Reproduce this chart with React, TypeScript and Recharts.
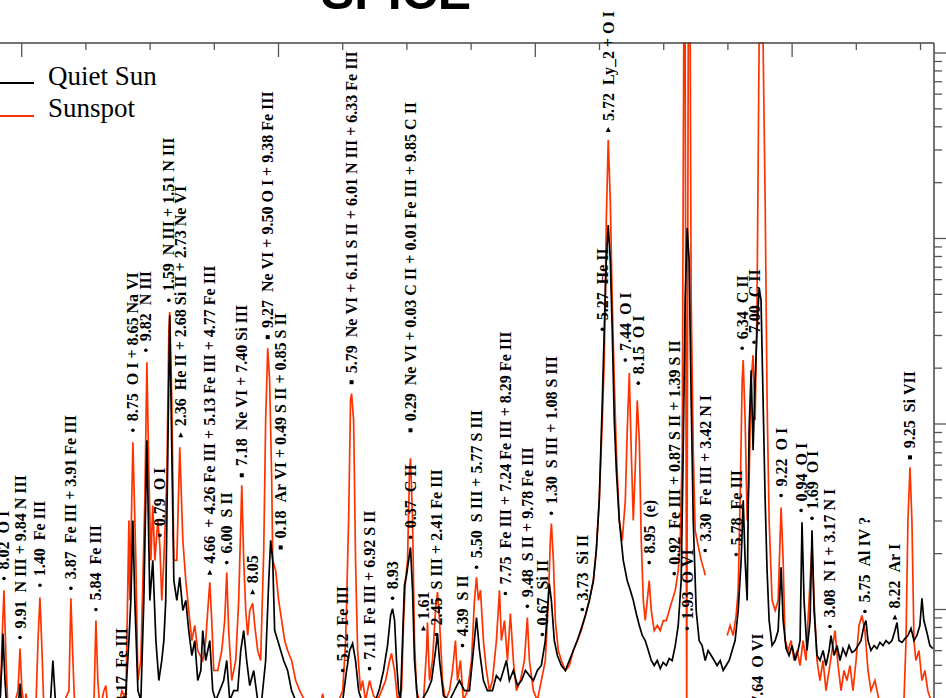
import React from 'react';
import { ComposedChart, Line, Scatter, XAxis, YAxis } from 'recharts';

// [wavelength (Å), intensity]; null = gap in the sunspot data
const sunspot: [number, number | null][] = [
  [978.31, 0.285], [978.47, 0.68], [978.62, 1.27], [978.78, 0.531], [978.93, 0.285], [979.40, 0.303], [979.71, 0.365],
  [979.87, 0.616], [980.02, 0.365], [980.25, 0.285], [980.33, 0.352], [980.49, 0.285], [981.11, 0.303], [981.27, 0.68],
  [981.42, 1.16], [981.58, 0.601], [981.73, 0.285], [982.98, 0.285], [983.68, 0.365], [983.83, 1.15], [983.99, 0.531],
  [984.14, 0.285], [985.62, 0.303], [985.78, 0.872], [985.93, 0.414], [986.09, 0.285], [986.40, 0.365], [986.56, 0.389],
  [986.71, 0.285], [987.49, 0.285], [987.80, 0.365], [988.11, 0.323], [988.35, 3.02], [988.42, 1.12], [988.66, 7.97],
  [988.89, 1.84], [989.05, 0.414], [989.28, 0.531], [989.59, 3.88], [989.75, 21.5], [989.90, 5.63], [990.06, 1.84],
  [990.21, 3.64], [990.37, 1.84], [990.60, 3.02], [990.76, 2.21], [990.91, 1.12], [991.07, 1.84], [991.30, 4.97],
  [991.46, 32.0], [991.53, 40.1], [991.69, 13.4], [991.85, 1.84], [992.08, 1.84], [992.31, 7.48], [992.55, 2.36],
  [992.78, 1.43], [993.01, 0.988], [993.25, 0.68], [993.48, 0.82], [993.71, 0.601], [994.10, 0.531], [994.33, 0.68],
  [994.49, 0.988], [994.65, 1.40], [994.80, 0.872], [994.96, 0.469], [995.27, 0.469], [995.58, 0.601], [995.81, 0.872],
  [995.97, 1.58], [996.12, 0.77], [996.36, 0.414], [996.67, 0.531], [996.90, 1.12], [997.14, 4.67], [997.29, 1.84],
  [997.45, 0.988], [997.60, 0.724], [997.76, 0.988], [997.99, 1.08], [998.15, 0.82], [998.38, 0.601], [998.61, 0.531],
  [998.85, 2.08], [999.00, 10.5], [999.16, 25.6], [999.31, 17.2], [999.47, 4.97], [999.55, 1.84], [999.78, 1.62],
  [1000.01, 1.12], [1000.25, 0.872], [1000.48, 0.68], [1000.71, 0.601], [1001.02, 0.531], [1001.34, 0.414],
  [1001.65, 0.365], [1002.04, 0.323], [1002.42, 0.285], [1003.20, 0.285], [1003.44, 0.352], [1003.67, 0.285],
  [1004.37, 0.285], [1005.00, 0.365], [1005.23, 0.68], [1005.46, 3.02], [1005.61, 13.4], [1005.69, 14.6],
  [1005.85, 10.5], [1006.00, 1.84], [1006.16, 0.601], [1006.39, 0.365], [1006.55, 0.414], [1006.78, 0.323],
  [1007.09, 0.414], [1007.40, 0.343], [1007.71, 0.323], [1008.03, 0.365], [1008.34, 0.414], [1008.65, 0.531],
  [1008.80, 0.579], [1009.04, 0.469], [1009.27, 0.323], [1009.58, 0.365], [1009.74, 0.872], [1009.89, 1.43],
  [1010.05, 1.84], [1010.20, 5.63], [1010.28, 6.53], [1010.44, 3.02], [1010.59, 0.68], [1010.75, 0.365],
  [1010.98, 0.323], [1011.29, 0.323], [1011.53, 0.601], [1011.60, 0.851], [1011.76, 0.414], [1011.99, 0.531],
  [1012.23, 0.988], [1012.38, 1.24], [1012.54, 0.872], [1012.77, 0.414], [1013.00, 0.323], [1013.32, 0.365],
  [1013.55, 0.469], [1013.78, 0.68], [1013.94, 0.414], [1014.17, 0.531], [1014.40, 0.323], [1014.72, 0.365],
  [1015.03, 0.531], [1015.26, 1.12], [1015.42, 1.49], [1015.57, 1.12], [1015.73, 1.27], [1015.96, 0.68],
  [1016.19, 0.469], [1016.43, 0.365], [1016.66, 0.414], [1016.97, 0.68], [1017.21, 1.27], [1017.36, 0.68],
  [1017.60, 0.872], [1017.83, 0.531], [1018.06, 0.951], [1018.29, 0.531], [1018.53, 0.365], [1018.84, 0.414],
  [1019.15, 0.531], [1019.38, 0.905], [1019.54, 0.531], [1019.85, 0.365], [1020.16, 0.323], [1020.47, 0.414],
  [1020.78, 0.531], [1021.02, 1.12], [1021.17, 2.36], [1021.25, 2.91], [1021.41, 1.84], [1021.56, 0.872],
  [1021.79, 0.601], [1022.03, 0.531], [1022.34, 0.469], [1022.65, 0.499], [1022.96, 0.601], [1023.27, 0.68],
  [1023.58, 0.77], [1023.90, 0.928], [1024.21, 1.12], [1024.52, 1.43], [1024.75, 2.08], [1024.98, 3.88],
  [1025.22, 10.5], [1025.37, 22.1], [1025.53, 126], [1025.68, 340], [1025.84, 161], [1025.99, 46.5], [1026.15, 17.2],
  [1026.31, 7.21], [1026.54, 3.02], [1026.77, 2.36], [1027.01, 3.88], [1027.16, 9.25], [1027.32, 18.8], [1027.47, 7.21],
  [1027.63, 3.02], [1027.78, 5.63], [1027.94, 13.4], [1028.10, 8.17], [1028.25, 2.36], [1028.41, 1.12], [1028.56, 0.872],
  [1028.72, 1.12], [1028.87, 1.43], [1029.03, 0.988], [1029.26, 0.77], [1029.50, 0.82], [1029.73, 0.77], [1029.96, 0.872],
  [1030.20, 0.872], [1030.43, 0.988], [1030.66, 1.12], [1030.90, 1.27], [1031.13, 1.62], [1031.29, 2.36], [1031.44, 7.21],
  [1031.56, 1132], [1031.67, 1132], [1031.79, 0.252], [1031.91, 1132], [1032.06, 1132], [1032.14, 46.5], [1032.30, 7.21],
  [1032.45, 2.67], [1032.68, 2.21], [1032.92, 1.84], [1033.15, 1.62], [1033.23, 1.53], [1034.00, null],
  [1034.94, 0.724], [1035.17, 0.82], [1035.41, 0.724], [1035.64, 0.928], [1035.80, 1.27], [1035.95, 3.88],
  [1036.11, 17.2], [1036.19, 22.1], [1036.34, 10.5], [1036.50, 3.02], [1036.65, 4.97], [1036.81, 17.2], [1036.96, 23.5],
  [1037.12, 10.5], [1037.27, 46.5], [1037.43, 1132], [1037.58, 1132], [1037.74, 1132], [1037.90, 161], [1038.05, 13.4],
  [1038.21, 3.02], [1038.44, 1.12], [1038.68, 0.988], [1038.91, 1.12], [1039.14, 3.55], [1039.30, 1.84], [1039.45, 0.68],
  [1039.69, 0.601], [1039.92, 0.68], [1040.15, 0.531], [1040.39, 0.601], [1040.62, 0.499], [1040.85, 0.68],
  [1041.08, 0.531], [1041.32, 1.12], [1041.55, 2.21], [1041.71, 1.12], [1041.94, 0.531], [1042.17, 0.414],
  [1042.41, 0.531], [1042.64, 0.365], [1042.88, 0.469], [1043.11, 0.601], [1043.34, 0.77], [1043.58, 0.499],
  [1043.81, 0.365], [1044.04, 0.469], [1044.27, 0.414], [1044.51, 0.499], [1044.74, 0.365], [1044.98, 0.531],
  [1045.21, 0.82], [1045.44, 0.928], [1045.67, 0.77], [1045.91, 0.469], [1046.14, 0.365], [1046.45, 0.414],
  [1046.77, 0.323], [1047.15, 0.252], [1048.32, 0.252], [1048.71, 0.323], [1048.87, 0.68], [1049.02, 3.02],
  [1049.18, 5.84], [1049.33, 3.02], [1049.49, 0.68], [1049.64, 0.531], [1049.88, 0.601], [1050.11, 0.414],
  [1050.34, 0.469], [1050.57, 0.365], [1050.81, 0.323], [1050.96, 0.285],
];

const quietSun: [number, number][] = [
  [978.31, 0.323], [978.47, 0.531], [978.54, 0.742], [978.70, 0.414], [978.85, 0.285], [979.71, 0.285], [979.87, 0.399],
  [980.02, 0.285], [982.20, 0.285], [982.43, 0.531], [982.67, 0.285], [988.03, 0.285], [988.35, 0.68], [988.50, 1.12],
  [988.66, 3.02], [988.81, 1.12], [989.05, 0.365], [989.28, 0.323], [989.51, 1.12], [989.75, 8.17], [989.98, 1.12],
  [990.21, 1.84], [990.45, 0.68], [990.68, 0.414], [990.91, 0.531], [991.07, 0.68], [991.22, 1.12], [991.38, 7.21],
  [991.53, 38.6], [991.69, 7.21], [991.85, 1.43], [992.08, 1.12], [992.31, 1.49], [992.55, 0.988], [992.78, 1.12],
  [993.01, 0.77], [993.25, 0.565], [993.48, 0.68], [993.71, 0.414], [993.95, 0.469], [994.10, 0.77], [994.33, 0.531],
  [994.65, 0.68], [994.88, 0.365], [995.11, 0.323], [995.42, 0.365], [995.73, 0.414], [995.97, 0.531], [996.20, 0.323],
  [996.51, 0.365], [996.82, 0.365], [997.06, 0.601], [997.29, 0.77], [997.52, 0.531], [997.76, 0.389], [998.07, 0.469],
  [998.38, 0.323], [998.69, 0.323], [999.00, 0.531], [999.24, 1.43], [999.39, 2.36], [999.55, 1.84], [999.70, 0.77],
  [999.94, 0.68], [1000.17, 0.601], [1000.40, 0.531], [1000.71, 0.469], [1001.02, 0.365], [1001.34, 0.323],
  [1001.65, 0.303], [1004.76, 0.285], [1005.00, 0.323], [1005.30, 0.469], [1005.54, 0.601], [1005.77, 0.655],
  [1006.00, 0.531], [1006.24, 0.365], [1006.47, 0.323], [1007.09, 0.303], [1007.56, 0.323], [1007.87, 0.375],
  [1008.18, 0.469], [1008.49, 0.639], [1008.73, 0.928], [1008.88, 1.01], [1009.04, 0.872], [1009.19, 0.531],
  [1009.35, 0.365], [1009.50, 0.323], [1009.66, 0.68], [1009.81, 1.35], [1009.97, 1.53], [1010.13, 1.84],
  [1010.28, 2.16], [1010.44, 1.27], [1010.59, 0.531], [1010.83, 0.323], [1011.14, 0.323], [1011.60, 0.365],
  [1011.92, 0.414], [1012.23, 0.601], [1012.38, 0.742], [1012.54, 0.531], [1012.85, 0.343], [1013.32, 0.323],
  [1013.70, 0.365], [1014.09, 0.414], [1014.48, 0.365], [1014.87, 0.365], [1015.18, 0.601], [1015.42, 0.905],
  [1015.65, 0.601], [1015.96, 0.414], [1016.27, 0.365], [1016.66, 0.365], [1016.97, 0.44], [1017.28, 0.414],
  [1017.52, 0.469], [1017.75, 0.531], [1017.98, 0.414], [1018.29, 0.469], [1018.61, 0.389], [1018.92, 0.414],
  [1019.23, 0.469], [1019.54, 0.44], [1019.85, 0.414], [1020.16, 0.469], [1020.47, 0.499], [1020.78, 0.68],
  [1020.94, 0.988], [1021.09, 1.38], [1021.25, 1.12], [1021.48, 0.68], [1021.72, 0.565], [1022.03, 0.499],
  [1022.34, 0.469], [1022.65, 0.531], [1022.96, 0.601], [1023.27, 0.68], [1023.58, 0.79], [1023.90, 0.928],
  [1024.21, 1.12], [1024.52, 1.43], [1024.75, 2.08], [1024.98, 3.88], [1025.22, 13.4], [1025.37, 32.0], [1025.53, 76.5],
  [1025.68, 118], [1025.84, 76.5], [1025.99, 32.0], [1026.15, 10.5], [1026.31, 5.63], [1026.54, 3.02], [1026.85, 1.84],
  [1027.16, 1.43], [1027.40, 1.27], [1027.63, 1.12], [1027.86, 0.951], [1028.10, 0.82], [1028.33, 0.724],
  [1028.56, 0.68], [1028.80, 0.601], [1029.03, 0.531], [1029.26, 0.499], [1029.50, 0.531], [1029.73, 0.48],
  [1029.96, 0.518], [1030.20, 0.499], [1030.43, 0.544], [1030.66, 0.531], [1030.90, 0.639], [1031.13, 0.82],
  [1031.36, 1.43], [1031.52, 7.21], [1031.67, 46.5], [1031.83, 114], [1031.98, 76.5], [1032.14, 13.4], [1032.30, 3.02],
  [1032.53, 0.988], [1032.76, 0.68], [1032.99, 0.639], [1033.23, 0.531], [1033.46, 0.601], [1033.70, 0.565],
  [1033.93, 0.531], [1034.16, 0.499], [1034.40, 0.531], [1034.63, 0.469], [1034.86, 0.499], [1035.10, 0.531],
  [1035.33, 0.601], [1035.56, 0.68], [1035.80, 0.988], [1036.03, 1.84], [1036.19, 3.88], [1036.34, 1.84],
  [1036.50, 1.12], [1036.65, 9.25], [1036.81, 19.5], [1036.96, 7.21], [1037.12, 17.2], [1037.27, 32.0], [1037.43, 54.0],
  [1037.58, 46.5], [1037.74, 13.4], [1037.90, 3.88], [1038.05, 1.62], [1038.21, 0.872], [1038.44, 0.639],
  [1038.68, 0.68], [1038.91, 0.77], [1039.14, 1.69], [1039.30, 0.872], [1039.53, 0.616], [1039.76, 0.565],
  [1040.00, 0.639], [1040.23, 0.531], [1040.46, 0.601], [1040.62, 0.68], [1040.77, 2.95], [1040.93, 1.12],
  [1041.16, 0.601], [1041.40, 0.872], [1041.55, 2.67], [1041.71, 0.988], [1041.94, 0.565], [1042.17, 0.531],
  [1042.41, 0.601], [1042.64, 0.499], [1042.88, 0.601], [1043.03, 0.724], [1043.27, 0.565], [1043.50, 0.639],
  [1043.73, 0.531], [1043.96, 0.616], [1044.20, 0.565], [1044.43, 0.639], [1044.66, 0.586], [1044.90, 0.601],
  [1045.13, 0.639], [1045.36, 0.68], [1045.60, 0.82], [1045.75, 0.872], [1045.91, 0.68], [1046.14, 0.601],
  [1046.38, 0.639], [1046.61, 0.616], [1046.84, 0.664], [1047.08, 0.639], [1047.31, 0.68], [1047.54, 0.655],
  [1047.78, 0.68], [1048.01, 0.77], [1048.17, 0.851], [1048.32, 0.68], [1048.56, 0.664], [1048.79, 0.697],
  [1049.02, 0.724], [1049.26, 0.79], [1049.49, 0.68], [1049.72, 0.724], [1049.95, 0.82], [1050.11, 1.15],
  [1050.26, 0.872], [1050.50, 0.751], [1050.73, 0.639], [1050.96, 0.616],
];

// line identifications: [wavelength, marker height, label, marker]
const lineIds: [number, number, string, string][] = [
  [978.62, 1.47, '8.02  O I', 'dot'],
  [979.87, 0.706, '9.91  N III + 9.84 N III', 'dot'],
  [981.42, 1.35, '1.40  Fe III', 'dot'],
  [983.83, 1.30, '3.87  Fe III + 3.91 Fe III', 'dot'],
  [985.78, 1.0, '5.84  Fe III', 'dot'],
  [987.80, 0.278, '8.17  Fe III', 'dot'],
  [988.66, 9.25, '8.75  O I + 8.65 Na VI', 'dot'],
  [989.67, 25.0, '9.82  N III', 'dot'],
  [990.76, 2.51, '0.79  O I', 'dot'],
  [991.46, 46.5, '1.59  N III + 1.51 N III', 'dot'],
  [992.39, 8.69, '2.36  He II + 2.68 Si II + 2.73 Ne VI', 'tri'],
  [994.65, 1.58, '4.66  + 4.26 Fe III + 5.13 Fe III + 4.77 Fe III', 'tri'],
  [995.97, 1.79, '6.00  S II', 'dot'],
  [997.14, 5.29, '7.18  Ne VI + 7.40 Si III', 'sq'],
  [997.99, 1.24, '8.05', 'tri'],
  [999.16, 29.4, '9.27  Ne VI + 9.50 O I + 9.38 Fe III', 'sq'],
  [1000.17, 2.16, '0.18  Ar VI + 0.49 S II + 0.85 S II', 'sq'],
  [1005.00, 0.469, '5.12  Fe III', 'dot'],
  [1005.69, 16.8, '5.79  Ne VI + 6.11 S II + 6.01 N III + 6.33 Fe III', 'sq'],
  [1007.09, 0.48, '7.11  Fe III + 6.92 S II', 'dot'],
  [1008.88, 1.15, '8.93', 'dot'],
  [1010.28, 2.45, '0.37  C II', 'dot'],
  [1010.28, 9.25, '0.29  Ne VI + 0.03 C II + 0.01 Fe III + 9.85 C II', 'sq'],
  [1011.29, 0.79, '1.61', 'tri'],
  [1012.30, 0.733, '2.45  S III + 2.41 Fe III', 'dot'],
  [1014.33, 0.639, '4.39  S II', 'dot'],
  [1015.42, 1.69, '5.50  S III + 5.77 S III', 'dot'],
  [1017.67, 1.22, '7.75  Fe III + 7.24 Fe III + 8.29 Fe III', 'dot'],
  [1019.38, 1.04, '9.48  S II + 9.78 Fe III', 'dot'],
  [1020.55, 0.733, '0.67  Si II', 'dot'],
  [1021.25, 3.30, '1.30  S III + 1.08 S III', 'dot'],
  [1023.66, 1.0, '3.73  Si II', 'dot'],
  [1025.22, 32.4, '5.27  He II', 'dot'],
  [1025.68, 385, '5.72  Ly_2 + O I', 'tri'],
  [1027.01, 22.1, '7.44  O I', 'dot'],
  [1028.02, 16.6, '8.15  O I', 'dot'],
  [1028.87, 1.79, '8.95  (e)', 'dot'],
  [1030.82, 1.56, '0.92  Fe III + 0.87 S II + 1.39 S II', 'dot'],
  [1031.83, 0.79, '1.93  O VI', 'dot'],
  [1033.23, 2.08, '3.30  Fe III + 3.42 N I', 'dot'],
  [1035.64, 1.98, '5.78  Fe III', 'dot'],
  [1036.11, 25.6, '6.34  C II', 'dot'],
  [1037.04, 27.6, '7.00  C II', 'dot'],
  [1037.27, 0.278, '7.64  O VI', 'dot'],
  [1039.14, 4.12, '9.22  O I', 'dot'],
  [1040.70, 3.42, '0.94  O I', 'dot'],
  [1041.55, 3.10, '1.69  O I', 'dot'],
  [1042.95, 0.81, '3.08  N I + 3.17 N I', 'dot'],
  [1045.67, 0.975, '5.75  Al IV ?', 'dot'],
  [1048.01, 0.905, '8.22  Ar I', 'tri'],
  [1049.18, 6.61, '9.25  Si VII', 'sq'],
];

const xTicks = [980, 985, 990, 995, 1000, 1005, 1010, 1015, 1020, 1025, 1030, 1035, 1040, 1045, 1050];
const decades = [0.1, 1, 10, 100, 1000];
const steps = [1, 2, 3, 4, 5, 6, 7, 8, 9];
const yTicks = decades.flatMap((d) => steps.map((s) => +(d * s).toPrecision(3))).filter((v) => v <= 1132);

const spotData = sunspot.map(([wl, flux]) => ({ wl, flux }));
const quietData = quietSun.map(([wl, flux]) => ({ wl, flux }));
const idData = lineIds.map(([wl, flux, text, mark]) => ({ wl, flux, text, mark }));

const serif = '"Liberation Serif", "DejaVu Serif", serif';
const nbsp = (s: string) => s.replace(/ /g, '\u00a0');

// ticks hang down from the top frame line
const TopTick = (props: any) => {
  const { x, y, payload } = props;
  const major = payload.value % 20 === 0;
  return <line x1={x} y1={y} x2={x} y2={y + (major ? 14 : 7)} stroke="#555" strokeWidth={1.3} />;
};

const RightTick = (props: any) => {
  const { x, y, payload } = props;
  const lg = Math.log10(payload.value);
  const major = Math.abs(lg - Math.round(lg)) < 1e-6;
  return <line x1={x} y1={y} x2={x + (major ? 12 : 8)} y2={y} stroke="#555" strokeWidth={1.3} />;
};

const IdLabel = (props: any) => {
  const { cx, cy, payload } = props;
  if (cx == null || cy == null) return null;
  const ty = cy - 9;
  let marker;
  if (payload.mark === 'tri') {
    marker = <polygon points={`${cx},${cy - 3} ${cx - 2.5},${cy + 2} ${cx + 2.5},${cy + 2}`} fill="#000" />;
  } else if (payload.mark === 'sq') {
    marker = <rect x={cx - 2} y={cy - 2} width={4} height={4} fill="#000" />;
  } else {
    marker = <circle cx={cx} cy={cy} r={1.8} fill="#000" />;
  }
  return (
    <g>
      {marker}
      <text
        x={cx}
        y={ty}
        transform={`rotate(-90 ${cx} ${ty})`}
        fontFamily={serif}
        fontSize={16}
        fontWeight="bold"
        dominantBaseline="central"
        fill="#000"
      >
        {nbsp(payload.text)}
      </text>
    </g>
  );
};

export default function App() {
  return (
    <div style={{ position: 'absolute', left: 0, top: 0, width: 946, height: 698, overflow: 'hidden', background: '#fff' }}>
      <ComposedChart width={946} height={795} margin={{ top: 29, right: 0, bottom: 0, left: 0 }}>
        <XAxis
          dataKey="wl"
          type="number"
          orientation="top"
          domain={[978.31, 1051.05]}
          ticks={xTicks}
          interval={0}
          height={14}
          tickSize={0}
          tickMargin={0}
          tick={<TopTick />}
          tickLine={false}
          axisLine={{ stroke: '#444', strokeWidth: 1.5 }}
        />
        <YAxis
          type="number"
          orientation="right"
          scale="log"
          domain={[0.1, 1132]}
          ticks={yTicks}
          interval={0}
          width={12}
          tickSize={0}
          tickMargin={0}
          tick={<RightTick />}
          tickLine={false}
          axisLine={{ stroke: '#444', strokeWidth: 1.5 }}
        />
        <Line
          data={spotData}
          dataKey="flux"
          stroke="#ff3300"
          strokeWidth={1.7}
          dot={false}
          activeDot={false}
          connectNulls={false}
          isAnimationActive={false}
        />
        <Line
          data={quietData}
          dataKey="flux"
          stroke="#000"
          strokeWidth={1.7}
          dot={false}
          activeDot={false}
          isAnimationActive={false}
        />
        <Scatter data={idData} dataKey="flux" shape={(p: any) => <IdLabel {...p} />} isAnimationActive={false} />
      </ComposedChart>
      <svg width={946} height={698} style={{ position: 'absolute', left: 0, top: 0, pointerEvents: 'none' }}>
        <text x={321} y={9} fontFamily='"Liberation Sans", Arial, sans-serif' fontWeight="bold" fontSize={50} fill="#000">
          SPICE
        </text>
        <line x1={0} y1={83} x2={34} y2={83} stroke="#000" strokeWidth={2} />
        <text x={48} y={85} fontFamily={serif} fontSize={27} fill="#000">Quiet Sun</text>
        <line x1={0} y1={116} x2={34} y2={116} stroke="#ff3300" strokeWidth={2} />
        <text x={48} y={117} fontFamily={serif} fontSize={27} fill="#000">Sunspot</text>
      </svg>
    </div>
  );
}
